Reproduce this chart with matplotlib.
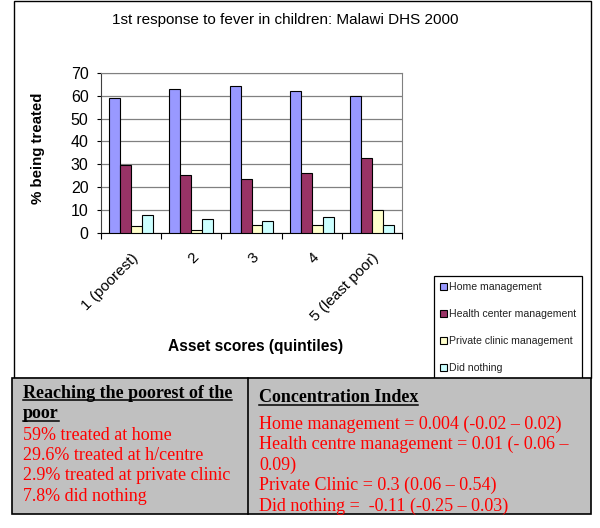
import numpy as np
import matplotlib
matplotlib.use("Agg")
import matplotlib.pyplot as plt
from matplotlib.patches import Rectangle
from matplotlib.lines import Line2D

# ---- data ----
quintiles = ["1 (poorest)", "2", "3", "4", "5 (least poor)"]
home = [59.0, 62.8, 64.3, 62.1, 59.8]
health = [29.6, 25.4, 23.5, 26.2, 32.8]
private = [2.9, 0.9, 3.1, 3.4, 9.7]
nothing = [7.8, 5.9, 4.9, 6.8, 3.1]
series_names = ["Home management", "Health center management",
                "Private clinic management", "Did nothing"]
colors = ["#9999FF", "#993366", "#FFFFCC", "#CCFFFF"]

left_lines = ["59% treated at home", "29.6% treated at h/centre",
              "2.9% treated at private clinic", "7.8% did nothing"]
right_lines = ["Home management = 0.004 (-0.02 \u2013 0.02)",
               "Health centre management = 0.01 (- 0.06 \u2013",
               "0.09)",
               "Private Clinic = 0.3 (0.06 \u2013 0.54)",
               "Did nothing =  -0.11 (-0.25 \u2013 0.03)"]

W, H = 600, 528
fig = plt.figure(figsize=(6, 5.28), dpi=100)
plt.rcParams['font.family'] = ['Liberation Sans', 'DejaVu Sans']

def fx(px):
    return px / W

def fy(py):
    return 1 - py / H

# outer chart frame
fig.patches.append(Rectangle((fx(14), fy(378)), fx(577), 377 / H, transform=fig.transFigure,
                             facecolor="white", edgecolor="black", lw=1.0, zorder=-2))

ax = fig.add_axes([fx(101), fy(232.5), fx(301), (232.5 - 73) / H])
ax.set_zorder(1)
x = np.arange(len(quintiles))
bw = 1 / 5.5
data = [home, health, private, nothing]
bars = []
for i, (vals, c) in enumerate(zip(data, colors)):
    b = ax.bar(x + (i - 1.5) * bw, vals, bw, color=c, edgecolor="black", lw=0.8,
               label=series_names[i], zorder=3)
    bars.append(b)

ax.set_xlim(-0.5, 4.5)
ax.set_ylim(0, 70)
ax.set_yticks(range(0, 71, 10))
ax.yaxis.grid(True, color="#808080", lw=0.9, zorder=0)
for s in ["top", "right"]:
    ax.spines[s].set_color("#808080")
ax.spines["left"].set_color("#404040")
ax.spines["bottom"].set_color("black")
ax.set_xticks(np.arange(-0.5, 5, 1))
ax.set_xticklabels([])
ax.set_xticks(x, minor=True)
ax.set_xticklabels(quintiles, minor=True, rotation=45, ha="right", rotation_mode="anchor",
                   fontsize=11)
ax.tick_params(axis="x", which="minor", length=0, pad=13)
ax.tick_params(axis="x", which="major", length=4, color="black")
ax.tick_params(axis="y", length=3, color="black", labelsize=11.5, pad=6)

fig.text(fx(38), fy(148), "% being treated", rotation=90, ha="center", va="center",
         fontsize=10.8, fontweight="bold")
fig.text(fx(285), fy(20), "1st response to fever in children: Malawi DHS 2000",
         ha="center", va="center", fontsize=11)
fig.text(fx(256), fy(347), "Asset scores (quintiles)", ha="center", va="center",
         fontsize=11.2, fontweight="bold")

leg = fig.legend(handles=bars, labels=series_names, loc="upper left",
                 bbox_to_anchor=(fx(434), fy(276)), fontsize=7.6, frameon=True,
                 fancybox=False, edgecolor="black", framealpha=1,
                 handlelength=0.6, handleheight=0.6, handletextpad=0.2,
                 labelspacing=1.6, borderpad=0.6, borderaxespad=0)
leg.get_frame().set_linewidth(0.9)
leg.set_zorder(-1.5)
for t in leg.get_texts():
    t.set_color("#222222")

# bottom table
fig.patches.append(Rectangle((fx(12), fy(514)), fx(579), 136 / H, transform=fig.transFigure,
                             facecolor="#C0C0C0", edgecolor="black", lw=1.2, zorder=-1))
fig.lines.append(Line2D([fx(248), fx(248)], [fy(514), fy(378)], transform=fig.transFigure,
                        color="black", lw=1.2))

serif = ['Liberation Serif', 'DejaVu Serif']
fs = 13
heads = []
heads.append(fig.text(fx(23), fy(393), "Reaching the poorest of the", family=serif,
                      fontsize=fs, fontweight="bold", va="center"))
heads.append(fig.text(fx(23), fy(414), "poor", family=serif,
                      fontsize=fs, fontweight="bold", va="center"))
heads.append(fig.text(fx(259), fy(398), "Concentration Index", family=serif,
                      fontsize=fs, fontweight="bold", va="center"))
for i, s in enumerate(left_lines):
    fig.text(fx(23), fy(435 + i * 20.5), s, family=serif, fontsize=fs,
             color="red", va="center")
for i, s in enumerate(right_lines):
    fig.text(fx(259), fy(424 + i * 20.6), s, family=serif, fontsize=fs,
             color="red", va="center")

# underline headers
fig.canvas.draw()
r = fig.canvas.get_renderer()
for t in heads:
    bb = t.get_window_extent(r)
    yl = bb.y0 + 2
    fig.lines.append(Line2D([bb.x0 / W, bb.x1 / W], [yl / H, yl / H],
                            transform=fig.transFigure, color="black", lw=1.1))

fig.savefig("out.png", dpi=100)
